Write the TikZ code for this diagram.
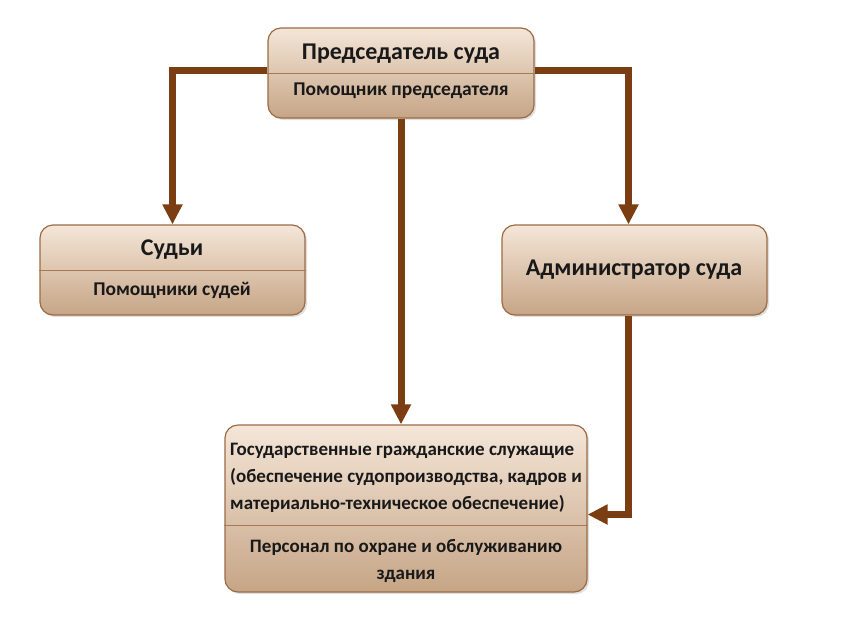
\documentclass[tikz,border=0pt]{standalone}
\usepackage{fontspec}
\setmainfont{Carlito}
\usetikzlibrary{arrows.meta,shadows}
\definecolor{linkbrown}{HTML}{7A3E12}
\definecolor{boxedge}{HTML}{9C6B44}
\definecolor{boxtop}{HTML}{F4E6D8}
\definecolor{boxbottom}{HTML}{C6A586}
\definecolor{rulecol}{HTML}{A77A55}
\tikzset{
  box/.style={draw=boxedge, line width=1.2pt, rounded corners=13pt,
    top color=boxtop, bottom color=boxbottom,
    drop shadow={opacity=0.25, shadow xshift=2pt, shadow yshift=-2pt}},
  link/.style={draw=linkbrown, line width=7pt, -{Triangle[width=19pt,length=20pt]}},
  divider/.style={draw=rulecol, line width=1pt},
  headtext/.style={font=\bfseries\fontsize{24}{28}\selectfont, text=black!90},
  subtext/.style={font=\bfseries\fontsize{19.5}{27}\selectfont, text=black!90}
}
\begin{document}
\begin{tikzpicture}[x=1pt,y=-1pt]
 \useasboundingbox [fill=white] (0,0) rectangle (850,630);
 % boxes
 \node [box, minimum width=266pt, minimum height=90pt] (chair) at (401,73) {};
 \node [box, minimum width=265pt, minimum height=90pt] (judges) at (172.5,270) {};
 \node [box, minimum width=265pt, minimum height=90pt] (admin) at (634.5,270) {};
 \node [box, minimum width=362pt, minimum height=167pt] (staff) at (406,508.5) {};
 \draw [divider] (chair.west) -- (chair.east);
 \draw [divider] (judges.west) -- (judges.east);
 \draw [divider] ([yshift=-16.5pt]staff.west) -- ([yshift=-16.5pt]staff.east);
 % texts
 \node [headtext] (chairT) at (401,54) {Председатель суда};
 \node [subtext] (chairS) at (401,91) {Помощник председателя};
 \node [headtext] (judgesT) at (172,250) {Судьи};
 \node [subtext] (judgesS) at (172,290) {Помощники судей};
 \node [headtext] (adminT) at (634,270) {Администратор суда};
 \node [subtext, font=\bfseries\fontsize{19}{27}\selectfont, align=left, anchor=west, inner sep=0pt] (staffT) at (230,478)
   {Государственные гражданские служащие\\(обеспечение судопроизводства, кадров и\\материально-техническое обеспечение)};
 \node [subtext, font=\bfseries\fontsize{19}{27}\selectfont, align=center] (staffS) at (406,561) {Персонал по охране и обслуживанию\\здания};
 % connectors
 \draw [link] ([yshift=3pt]chair.west) -| (judges.north);
 \draw [link] ([yshift=3pt]chair.east) -| ([xshift=-6pt]admin.north);
 \draw [link] (chair.south) -- (chair.south |- staff.north);
 \draw [link] ([xshift=-6pt]admin.south) |- ([yshift=-6pt]staff.east);
\end{tikzpicture}
\end{document}
